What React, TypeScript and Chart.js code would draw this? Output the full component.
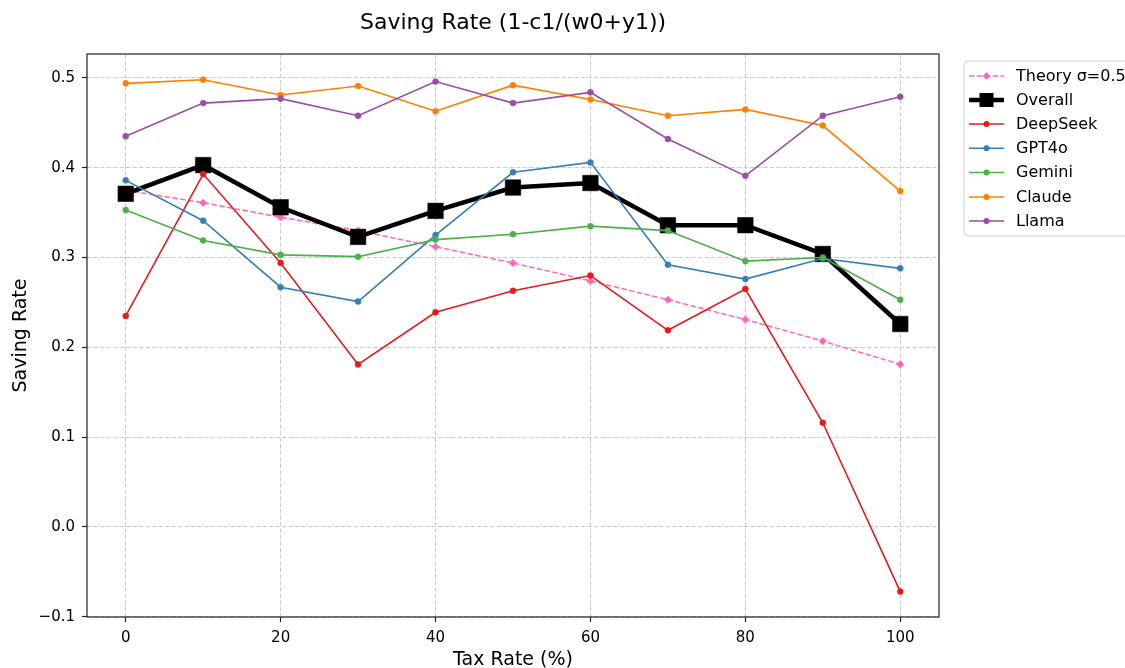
import React, { useEffect, useRef } from 'react';
import { Chart, registerables } from 'chart.js';

Chart.register(...registerables);

const taxRates = [0, 10, 20, 30, 40, 50, 60, 70, 80, 90, 100];
const theoryVals = [0.375, 0.361, 0.345, 0.330, 0.312, 0.294, 0.274, 0.253, 0.231, 0.207, 0.181];
const overallVals = [0.371, 0.403, 0.356, 0.323, 0.352, 0.378, 0.383, 0.336, 0.336, 0.304, 0.226];
const deepseekVals = [0.235, 0.393, 0.294, 0.181, 0.239, 0.263, 0.280, 0.219, 0.265, 0.116, -0.072];
const gpt4oVals = [0.386, 0.341, 0.267, 0.251, 0.325, 0.395, 0.406, 0.292, 0.276, 0.299, 0.288];
const geminiVals = [0.353, 0.319, 0.303, 0.301, 0.320, 0.326, 0.335, 0.330, 0.296, 0.300, 0.253];
const claudeVals = [0.494, 0.498, 0.481, 0.491, 0.463, 0.492, 0.476, 0.458, 0.465, 0.447, 0.374];
const llamaVals = [0.435, 0.472, 0.477, 0.458, 0.496, 0.472, 0.484, 0.432, 0.391, 0.458, 0.479];

const xTicks = [0, 20, 40, 60, 80, 100];
const yTicks = [-0.1, 0.0, 0.1, 0.2, 0.3, 0.4, 0.5];

const seriesNames = ['Theory σ=0.5', 'Overall', 'DeepSeek', 'GPT4o', 'Gemini', 'Claude', 'Llama'];
const seriesValues = [theoryVals, overallVals, deepseekVals, gpt4oVals, geminiVals, claudeVals, llamaVals];
const seriesColors = ['#ff69b4', '#000000', '#e41a1c', '#377eb8', '#4daf4a', '#ff7f00', '#984ea3'];

const FONT = '"DejaVu Sans", sans-serif';

const toPoints = (vals: number[]) => taxRates.map((x, i) => ({ x, y: vals[i] }));

const decorPlugin = {
  id: 'decor',
  beforeDraw(chart: any) {
    const { ctx, width, height } = chart;
    ctx.save();
    ctx.fillStyle = '#ffffff';
    ctx.fillRect(0, 0, width, height);
    ctx.restore();
  },
  afterDraw(chart: any) {
    const { ctx } = chart;
    const { left, right, top, bottom } = chart.chartArea;
    ctx.save();
    // spines
    ctx.strokeStyle = '#222222';
    ctx.lineWidth = 1.2;
    ctx.setLineDash([]);
    ctx.strokeRect(left, top, right - left, bottom - top);

    // title
    ctx.fillStyle = '#000';
    ctx.textAlign = 'center';
    ctx.textBaseline = 'middle';
    ctx.font = `22px ${FONT}`;
    ctx.fillText('Saving Rate (1-c1/(w0+y1))', (left + right) / 2, 23);

    // axis titles
    ctx.font = `19px ${FONT}`;
    ctx.fillText('Tax Rate (%)', (left + right) / 2, 660);
    ctx.save();
    ctx.translate(21, (top + bottom) / 2);
    ctx.rotate(-Math.PI / 2);
    ctx.fillText('Saving Rate', 0, 0);
    ctx.restore();

    // legend
    const lx = 964, ly = 61, lw = 175, lh = 175;
    ctx.beginPath();
    const r = 4;
    ctx.moveTo(lx + r, ly);
    ctx.lineTo(lx + lw - r, ly);
    ctx.arcTo(lx + lw, ly, lx + lw, ly + r, r);
    ctx.lineTo(lx + lw, ly + lh - r);
    ctx.arcTo(lx + lw, ly + lh, lx + lw - r, ly + lh, r);
    ctx.lineTo(lx + r, ly + lh);
    ctx.arcTo(lx, ly + lh, lx, ly + lh - r, r);
    ctx.lineTo(lx, ly + r);
    ctx.arcTo(lx, ly, lx + r, ly, r);
    ctx.closePath();
    ctx.fillStyle = 'rgba(255,255,255,0.8)';
    ctx.fill();
    ctx.strokeStyle = '#d0d0d0';
    ctx.lineWidth = 1;
    ctx.stroke();

    const rowY = [76, 100, 124, 148.3, 172.5, 197, 221];
    seriesNames.forEach((name, i) => {
      const y = rowY[i];
      const color = seriesColors[i];
      const x1 = 969, x2 = 1004, xc = 986.5;
      ctx.strokeStyle = color;
      ctx.fillStyle = color;
      if (i === 0) {
        ctx.lineWidth = 1.5;
        ctx.setLineDash([5.5, 2.4]);
      } else if (i === 1) {
        ctx.lineWidth = 4.5;
        ctx.setLineDash([]);
      } else {
        ctx.lineWidth = 1.6;
        ctx.setLineDash([]);
      }
      ctx.beginPath();
      ctx.moveTo(x1, y);
      ctx.lineTo(x2, y);
      ctx.stroke();
      ctx.setLineDash([]);
      ctx.beginPath();
      if (i === 0) {
        ctx.moveTo(xc, y - 3.8);
        ctx.lineTo(xc + 3.8, y);
        ctx.lineTo(xc, y + 3.8);
        ctx.lineTo(xc - 3.8, y);
        ctx.closePath();
        ctx.fill();
      } else if (i === 1) {
        ctx.fillRect(xc - 7, y - 7, 14, 14);
      } else {
        ctx.arc(xc, y, 3, 0, Math.PI * 2);
        ctx.fill();
      }
      ctx.fillStyle = '#000';
      ctx.textAlign = 'left';
      ctx.textBaseline = 'middle';
      ctx.font = `16px ${FONT}`;
      ctx.fillText(name, 1016, y + 0.5);
    });
    ctx.restore();
  },
};

export default function App() {
  const canvasRef = useRef<HTMLCanvasElement | null>(null);

  useEffect(() => {
    document.body.style.margin = '0';
    const canvas = canvasRef.current;
    if (!canvas) return;

    const datasets = seriesNames.map((name, i) => {
      const color = seriesColors[i];
      const base: any = {
        label: name,
        data: toPoints(seriesValues[i]),
        borderColor: color,
        backgroundColor: color,
        pointBackgroundColor: color,
        pointBorderColor: color,
        tension: 0,
        fill: false,
        order: seriesNames.length - i,
      };
      if (i === 0) {
        return { ...base, borderWidth: 1.5, borderDash: [5.5, 2.4], pointStyle: 'rectRot', pointRadius: 3.8, pointBorderWidth: 0.5 };
      }
      if (i === 1) {
        return { ...base, borderWidth: 4.5, pointStyle: 'rect', pointRadius: 11, pointBorderWidth: 0.5 };
      }
      return { ...base, borderWidth: 1.6, pointStyle: 'circle', pointRadius: 3, pointBorderWidth: 0.5 };
    });

    const chart = new Chart(canvas, {
      type: 'line',
      data: { datasets },
      options: {
        animation: false,
        responsive: false,
        devicePixelRatio: 1,
        layout: { padding: { left: 0, top: 54, right: 186, bottom: 0 } },
        plugins: {
          legend: { display: false },
          title: { display: false },
          tooltip: { enabled: false },
        },
        scales: {
          x: {
            type: 'linear',
            min: -5,
            max: 105,
            afterBuildTicks: (scale: any) => {
              scale.ticks = xTicks.map((v) => ({ value: v }));
            },
            afterFit: (scale: any) => {
              scale.height = 51;
            },
            ticks: {
              autoSkip: false,
              maxRotation: 0,
              color: '#000',
              padding: 7,
              font: { family: FONT, size: 15 },
              callback: (v: any) => String(v),
            },
            grid: {
              color: '#cccccc',
              lineWidth: 1,
              drawTicks: true,
              tickLength: 5,
              tickColor: '#222222',
              tickWidth: 1.2,
              tickBorderDash: [],
            },
            border: { display: false, dash: [4.5, 2] },
          },
          y: {
            type: 'linear',
            min: -0.1003,
            max: 0.5267,
            afterBuildTicks: (scale: any) => {
              scale.ticks = yTicks.map((v) => ({ value: v }));
            },
            afterFit: (scale: any) => {
              scale.width = 87;
            },
            ticks: {
              autoSkip: false,
              color: '#000',
              padding: 7,
              font: { family: FONT, size: 15 },
              callback: (v: any) => {
                const n = Number(v);
                if (n < -1e-9) return '\u2212' + Math.abs(n).toFixed(1);
                return Math.abs(n).toFixed(1);
              },
            },
            grid: {
              color: '#cccccc',
              lineWidth: 1,
              drawTicks: true,
              tickLength: 5,
              tickColor: '#222222',
              tickWidth: 1.2,
              tickBorderDash: [],
            },
            border: { display: false, dash: [4.5, 2] },
          },
        },
      },
      plugins: [decorPlugin],
    } as any);

    return () => {
      chart.destroy();
    };
  }, []);

  return (
    <canvas
      ref={canvasRef}
      width={1125}
      height={668}
      style={{ display: 'block', width: '1125px', height: '668px' }}
    />
  );
}
